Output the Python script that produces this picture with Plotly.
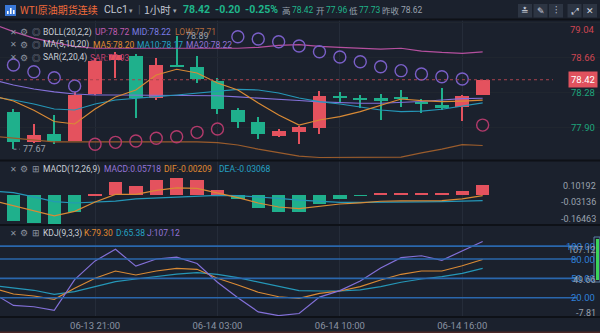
import plotly.graph_objects as go

W, H = 600, 333

# ---------------- data ----------------
idx = list(range(-1, 24))
time_ticks = [4, 10, 16, 22]
time_labels = ["06-13 21:00", "06-14 03:00", "06-14 10:00", "06-14 16:00"]

open_ = [78.33, 78.075, 77.75, 77.834, 77.758, 78.263, 78.633, 78.68, 78.22, 78.57, 78.56, 78.406,
         78.093, 77.96, 77.816, 77.86, 77.895, 78.245, 78.215, 78.22, 78.23, 78.183, 78.147, 78.122, 78.255]
high = [78.36, 78.10, 77.94, 78.04, 78.29, 78.65, 78.72, 78.70, 78.65, 78.89, 78.68, 78.44,
        78.12, 78.02, 77.885, 77.92, 78.30, 78.285, 78.255, 78.27, 78.31, 78.21, 78.33, 78.255, 78.42]
low = [78.02, 77.67, 77.74, 77.73, 77.755, 78.255, 78.435, 78.01, 78.20, 78.555, 78.38, 78.05,
       77.90, 77.78, 77.80, 77.73, 77.83, 78.176, 78.11, 77.985, 78.13, 78.06, 78.09, 77.97, 78.25]
close = [78.06, 77.75, 77.823, 77.762, 78.255, 78.62, 78.687, 78.22, 78.58, 78.56, 78.425, 78.10,
         77.96, 77.83, 77.866, 77.91, 78.245, 78.225, 78.205, 78.20, 78.215, 78.155, 78.118, 78.245, 78.42]

ma5 = [78.244, 78.19, 78.09, 77.969, 77.942, 78.104, 78.234, 78.309, 78.471, 78.533, 78.493, 78.385,
       78.309, 78.169, 78.039, 77.931, 77.985, 78.021, 78.075, 78.147, 78.212, 78.194, 78.183, 78.19, 78.20]
ma10 = [78.234, 78.201, 78.158, 78.104, 78.093, 78.158, 78.201, 78.223, 78.237, 78.255, 78.277, 78.298,
        78.315, 78.309, 78.277, 78.223, 78.183, 78.158, 78.122, 78.093, 78.075, 78.082, 78.101, 78.136, 78.17]
ma20 = [78.417, 78.363, 78.32, 78.288, 78.266, 78.255, 78.255, 78.255, 78.255, 78.255, 78.255, 78.247,
        78.234, 78.223, 78.212, 78.196, 78.18, 78.172, 78.166, 78.166, 78.172, 78.185, 78.201, 78.215, 78.22]
boll_mid = ma20  # the Bollinger middle band is the 20-period average
boll_up = [79.02, 78.94, 78.87, 78.82, 78.78, 78.76, 78.76, 78.76, 78.76, 78.76, 78.76, 78.76,
           78.76, 78.77, 78.79, 78.80, 78.78, 78.77, 78.76, 78.75, 78.76, 78.73, 78.715, 78.705, 78.72]
boll_low = [77.81, 77.79, 77.77, 77.75, 77.75, 77.75, 77.75, 77.75, 77.748, 77.748, 77.748, 77.74,
            77.715, 77.67, 77.63, 77.595, 77.58, 77.58, 77.58, 77.58, 77.585, 77.63, 77.67, 77.72, 77.71]
sar = [None, 78.579, 78.507, 78.442, 78.352, 77.723, 77.744, 77.758, 77.788, 77.805, 77.852, 77.888,
       78.885, 78.86, 78.831, 78.784, 78.723, 78.666, 78.615, 78.561, 78.518, 78.482, 78.453, 78.428, 77.93]

macd_hist = [-0.12, -0.147, -0.156, -0.16463, -0.096, 0.004, 0.076, 0.053, 0.088, 0.10192, 0.088, 0.030,
             -0.022, -0.070, -0.098, -0.096, -0.052, -0.020, -0.004, 0.014, 0.014, 0.016, 0.012, 0.026, 0.05718]
dif = [-0.030, -0.058, -0.087, -0.118, -0.092, -0.038, 0.005, 0.005, 0.028, 0.043, 0.040, 0.014,
       -0.013, -0.044, -0.067, -0.076, -0.061, -0.050, -0.043, -0.034, -0.032, -0.030, -0.030, -0.021, -0.00209]
dea = [0.025, 0.015, -0.009, -0.036, -0.044, -0.040, -0.033, -0.021, -0.016, -0.008, -0.004, -0.001,
       -0.002, -0.009, -0.018, -0.028, -0.035, -0.040, -0.041, -0.041, -0.039, -0.038, -0.036, -0.034, -0.03068]

k_line = [35.0, 25.7, 22.6, 17.5, 34.6, 50.1, 61.4, 55.2, 61.4, 65.6, 64.0, 50.1,
          39.7, 28.4, 21.5, 19.0, 26.8, 30.4, 37.1, 47.4, 56.3, 61.4, 61.4, 69.6, 79.30]
d_line = [38.9, 35.5, 31.5, 25.3, 29.3, 37.1, 44.8, 49.0, 52.6, 56.7, 58.8, 56.3,
          51.0, 43.9, 37.1, 30.9, 30.4, 30.4, 32.0, 37.1, 43.9, 49.0, 52.6, 57.8, 65.38]
j_line = [27.0, 8.0, 6.0, 0.5, 48.0, 77.0, 95.0, 69.0, 80.0, 83.0, 73.0, 44.0,
          20.0, -2.0, -7.81, -4.5, 21.0, 31.0, 46.0, 66.0, 82.0, 85.0, 78.0, 92.0, 107.12]
kdj_levels = [100, 80, 50, 20]

price_ticks = [79.04, 78.66, 78.28, 77.90, 77.52]
last_price = 78.42
prev_close = 78.62
day_open, day_high, day_low = 77.96, 78.42, 77.73
period_high, period_low = 78.89, 77.67

# ---------------- styling ----------------
BG = "#1b212d"
UP, DOWN = "#e4525e", "#1fb08c"
GRID = "#252c39"
SEP = "#0e1117"
FONT = "Roboto, Noto Sans CJK SC, sans-serif"
CJK = "Noto Sans CJK SC, Roboto, sans-serif"

fig = go.Figure()

# candles: wicks then bodies
ccol = [UP if c >= o else DOWN for o, c in zip(open_, close)]
fig.add_bar(x=idx, base=low, y=[h - l for h, l in zip(high, low)], width=0.06,
            marker=dict(color=ccol, line_width=0), xaxis="x", yaxis="y")
fig.add_bar(x=idx, base=[min(o, c) for o, c in zip(open_, close)],
            y=[max(abs(c - o), 0.013) for o, c in zip(open_, close)], width=0.68,
            marker=dict(color=ccol, line_width=0), xaxis="x", yaxis="y")

def line(y, color, ax="y", w=1.2):
    fig.add_scatter(x=idx, y=y, mode="lines", line=dict(color=color, width=w),
                    xaxis="x" if ax == "y" else "x" + ax[1:], yaxis=ax)

line(boll_up, "#b5509f")
line(boll_low, "#9a5c2c")
line(ma20, "#8370d8")
line(ma10, "#2597b8")
line(ma5, "#d98a35")

sar_col = ["#7a5fc8" if (s is not None and s > c) else "#b23a6b" for s, c in zip(sar, close)]
fig.add_scatter(x=idx, y=sar, mode="markers", xaxis="x", yaxis="y",
                marker=dict(symbol="circle-open", size=12, color=sar_col, line=dict(width=1.4)))

# MACD pane
fig.add_bar(x=idx, y=macd_hist, width=0.66, xaxis="x2", yaxis="y2",
            marker=dict(color=[UP if v >= 0 else DOWN for v in macd_hist], line_width=0))
line(dea, "#2597b8", "y2")
line(dif, "#d98a35", "y2")

# KDJ pane
line(d_line, "#2597b8", "y3")
line(k_line, "#d98a35", "y3")
line(j_line, "#8370d8", "y3")

xr = [-0.66, -0.66 + W / 20.4]
xcommon = dict(range=xr, showline=False, zeroline=False, tickvals=time_ticks, showgrid=True,
               gridcolor=GRID, gridwidth=1, fixedrange=True)
fig.update_layout(
    width=W, height=H, margin=dict(l=0, r=0, t=0, b=0), autosize=False,
    paper_bgcolor=BG, plot_bgcolor=BG, showlegend=False, barmode="overlay", bargap=0,
    font=dict(family=FONT, color="#a7aebb", size=10),
    xaxis=dict(**xcommon, anchor="y", showticklabels=False),
    xaxis2=dict(**xcommon, anchor="y2", matches="x", showticklabels=False),
    xaxis3=dict(**xcommon, anchor="y3", matches="x", ticktext=time_labels, showticklabels=True,
                tickfont=dict(size=9.5, color="#8a92a2"), ticks="", ticklabelstandoff=1),
    yaxis=dict(domain=[1 - 160 / H, 1 - 20 / H], range=[77.5532, 79.0651], showticklabels=False,
               tickvals=price_ticks, showgrid=True, gridcolor="#20262f", zeroline=False),
    yaxis2=dict(domain=[1 - 224 / H, 1 - 161 / H], range=[-0.1645, 0.1966], showticklabels=False,
                showgrid=False, zeroline=False),
    yaxis3=dict(domain=[1 - 317 / H, 1 - 226 / H], range=[-9.92, 131.16], showticklabels=False,
                showgrid=False, zeroline=False),
)

shapes = []
# pane separators
for yy in [19.5, 160.5, 225, 317]:
    shapes.append(dict(type="line", xref="paper", yref="paper", x0=0, x1=1, y0=1 - yy / H, y1=1 - yy / H,
                       line=dict(color=SEP, width=2)))
shapes.append(dict(type="line", xref="paper", yref="paper", x0=0, x1=1, y0=1 - 332.3 / H, y1=1 - 332.3 / H,
                   line=dict(color="#4a2626", width=1.5)))
# last-price dotted line
shapes.append(dict(type="line", xref="paper", yref="y", x0=0, x1=553 / W, y0=last_price, y1=last_price,
                   line=dict(color="#a9434f", width=1, dash="dot")))
# period low leader
shapes.append(dict(type="line", xref="x", yref="y", x0=0, x1=0.32, y0=period_low, y1=period_low,
                   line=dict(color="#8a92a2", width=1, dash="dot")))
# KDJ reference levels
for lv in kdj_levels:
    shapes.append(dict(type="line", xref="paper", yref="y3", x0=0, x1=577 / W, y0=lv, y1=lv,
                       line=dict(color="#2a67ad", width=1.6)))
# header logo
shapes.append(dict(type="rect", xref="paper", yref="paper", x0=5 / W, x1=16 / W, y0=1 - 16 / H, y1=1 - 5 / H,
                   fillcolor="#3a78d8", line=dict(width=0)))
for bx, bt in [(7, 11), (10, 8), (13, 10)]:
    shapes.append(dict(type="rect", xref="paper", yref="paper", x0=bx / W, x1=(bx + 1.6) / W,
                       y0=1 - 14 / H, y1=1 - bt / H, fillcolor="#ffffff", line=dict(width=0)))
# header buttons
for cx in [525, 540.5, 556, 574.5, 590]:
    shapes.append(dict(type="rect", xref="paper", yref="paper", x0=(cx - 7) / W, x1=(cx + 7) / W,
                       y0=1 - 17.5 / H, y1=1 - 4 / H, fillcolor="#2d3543", line=dict(width=0)))
# scroll indicator in KDJ pane
shapes.append(dict(type="rect", xref="paper", yref="paper", x0=594 / W, x1=600 / W, y0=1 - 282 / H,
                   y1=1 - 237 / H, fillcolor=BG, line=dict(color="#5b7fa6", width=1)))
shapes.append(dict(type="rect", xref="paper", yref="paper", x0=596 / W, x1=599 / W, y0=1 - 280 / H,
                   y1=1 - 239 / H, fillcolor="#3ad45a", line=dict(width=0)))
fig.update_layout(shapes=shapes)

ann = []

def txt(x, y, text, color, size=9, anchor="left", bold=False, family=FONT):
    ann.append(dict(xref="paper", yref="paper", x=x / W, y=1 - y / H, text=f"<b>{text}</b>" if bold else text,
                    showarrow=False, xanchor=anchor, yanchor="middle", borderpad=0,
                    font=dict(color=color, size=size, family=family)))

GREEN_T = "#1fb58a"
GRAY_T = "#9aa1ae"
NAME_T = "#c9ced6"
ICON_T = "#8d94a1"

# header
txt(19, 10, "WTI原油期货连续", "#f06a3a", 10, family=CJK)
txt(103, 10, "CLc1", "#c3c8d1", 10.5)
txt(128, 10.5, "▾", "#a0a6b2", 7)
txt(137, 10, "|", "#4a5262", 11)
txt(143, 10, "1小时", "#c3c8d1", 10.5, family=CJK)
txt(172, 10.5, "▾", "#a0a6b2", 7)
chg = last_price - prev_close
txt(182, 10, f"{last_price:.2f}", GREEN_T, 10.5, bold=True)
txt(214, 10, f"{chg:.2f}", GREEN_T, 10.5, bold=True)
txt(244, 10, f"{chg / prev_close * 100:.2f}%", GREEN_T, 10.5, bold=True)
txt(281, 10, "高", GRAY_T, 8.5, family=CJK)
txt(291, 10, f"{day_high:.2f}", GREEN_T, 8.5)
txt(315, 10, "开", GRAY_T, 8.5, family=CJK)
txt(325, 10, f"{day_open:.2f}", GREEN_T, 8.5)
txt(348, 10, "低", GRAY_T, 8.5, family=CJK)
txt(358, 10, f"{day_low:.2f}", GREEN_T, 8.5)
txt(381, 10, "昨收", GRAY_T, 8.5, family=CJK)
txt(400, 10, f"{prev_close:.2f}", GRAY_T, 8.5)
for cx, g in zip([525, 540.5, 556, 574.5, 590], ["≛", "✎", "⫶", "⤢", "✕"]):
    txt(cx, 11, g, "#d5d9e0", 9, anchor="center")

# indicator legends
def legend_row(y, icons, name, parts):
    txt(9, y, "✕", ICON_T, 8)
    txt(19, y, icons[0], ICON_T, 8.5)
    txt(31, y, icons[1], ICON_T, 8.5)
    txt(42, y, name, NAME_T, 8.5)
    for x, t, c in parts:
        txt(x, y, t, c, 8.5)

legend_row(32, ("⚙", "◎"), "BOLL(20,2,2)",
           [(94, f"UP:{boll_up[-1]:.2f}", "#c05cb0"), (131, f"MID:{boll_mid[-1]:.2f}", "#7c7ee6"),
            (174, f"LOW:{boll_low[-1]:.2f}", "#b06a3c")])
legend_row(45, ("⚙", "◎"), "MA(5,10,20)",
           [(92, f"MA5:{ma5[-1]:.2f}", "#e08a30"), (136, f"MA10:{ma10[-1]:.2f}", "#25a2c4"),
            (185, f"MA20:{ma20[-1]:.2f}", "#9474d8")])
legend_row(58, ("⚙", "◎"), "SAR(2,20,4)", [(89, f"SAR:{sar[-1]:.2f}", "#c0406e")])
legend_row(169, ("⚙", "⊞"), "MACD(12,26,9)",
           [(103, f"MACD:{macd_hist[-1]:.5f}", "#9474d8"), (163, f"DIF:{dif[-1]:.5f}", "#e08a30"),
            (218, f"DEA:{dea[-1]:.5f}", "#25a2c4")])
legend_row(233, ("⚙", "⊞"), "KDJ(9,3,3)",
           [(83, f"K:{k_line[-1]:.2f}", "#e08a30"), (115, f"D:{d_line[-1]:.2f}", "#25a2c4"),
            (146, f"J:{j_line[-1]:.2f}", "#9474d8")])

# period high / low markers
ann.append(dict(xref="x", yref="y", x=0.35, y=period_low, text=f"{period_low:.2f}", showarrow=False,
                xanchor="left", yanchor="middle", font=dict(color=GRAY_T, size=9, family=FONT)))
ann.append(dict(xref="x", yref="y", x=8.35, y=period_high, text=f"{period_high:.2f}", showarrow=False,
                xanchor="left", yanchor="middle", font=dict(color=GRAY_T, size=9, family=FONT)))

# price axis labels (clamped inside the pane)
for v in price_ticks:
    col = "#cf4652" if v > last_price else "#1ea57c"
    shift = -7 if v == price_ticks[0] else (12 if v == price_ticks[-1] else 0)
    ann.append(dict(xref="paper", yref="y", x=597 / W, y=v, yshift=shift, text=f"{v:.2f}", showarrow=False,
                    xanchor="right", yanchor="middle", font=dict(color=col, size=9.5, family=FONT)))
ann.append(dict(xref="paper", yref="y", x=598 / W, y=last_price, text=f"{last_price:.2f}", showarrow=False,
                xanchor="right", yanchor="middle", bgcolor="#e0525e", borderpad=2,
                font=dict(color="#ffffff", size=9.5, family=FONT)))

# MACD scale labels: max / mid / min of the histogram
mx, mn = max(macd_hist), min(macd_hist)
for y, v in [(185.7, mx), (202.3, (mx + mn) / 2), (219, mn)]:
    txt(597, y, f"{v:.5f}", GRAY_T, 9, anchor="right")

# KDJ scale labels
jmax, jmin = max(j_line), min(j_line)
for lv in kdj_levels:
    ann.append(dict(xref="paper", yref="y3", x=597 / W, y=lv, text=f"{lv:.2f}", showarrow=False,
                    xanchor="right", yanchor="middle", font=dict(color="#2f80d8", size=9.5, family=FONT)))
txt(597, 250, f"{jmax:.2f}", GRAY_T, 9, anchor="right")
txt(597, 279.5, f"{(jmax + jmin) / 2:.2f}", GRAY_T, 9, anchor="right")
txt(597, 312.5, f"{jmin:.2f}", GRAY_T, 9, anchor="right")

fig.update_layout(annotations=ann)
fig.write_html("out.html")
